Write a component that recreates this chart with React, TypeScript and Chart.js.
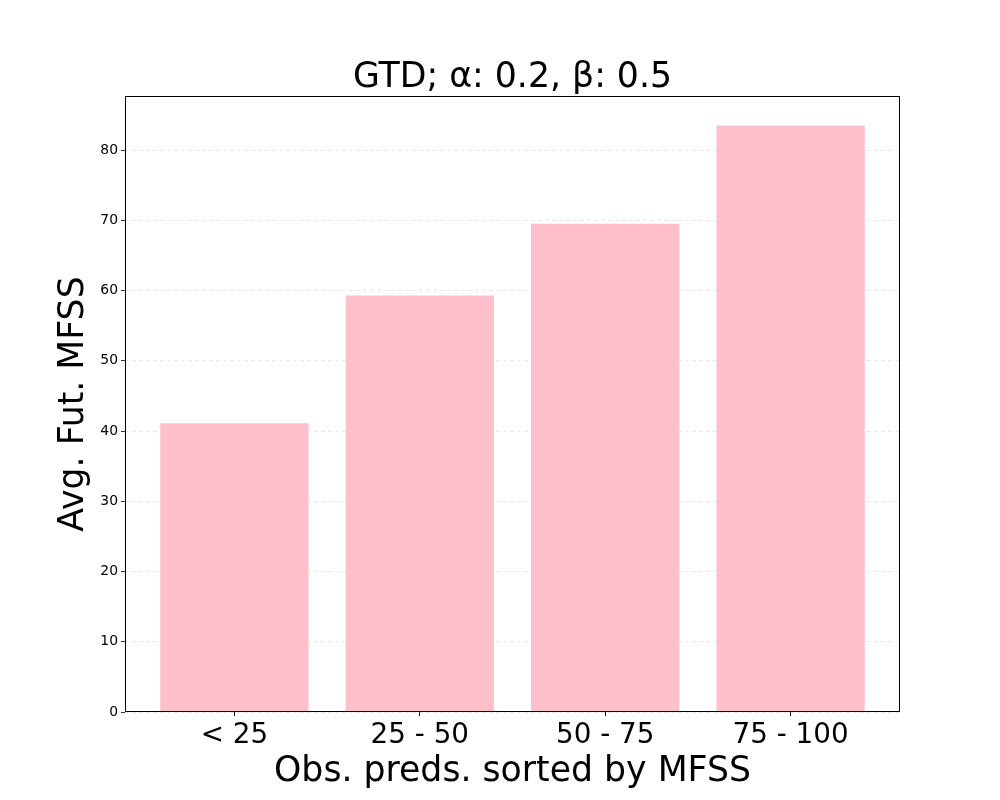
import React, { useEffect, useRef } from "react";
import { Chart, registerables } from "chart.js";

Chart.register(...registerables);

const categories: string[] = ["< 25", "25 - 50", "50 - 75", "75 - 100"];
const avgFutMFSS: number[] = [41.1, 59.3, 69.5, 83.5];
const yTickValues: number[] = [0, 10, 20, 30, 40, 50, 60, 70, 80];
const xTickValues: number[] = [0, 1, 2, 3];

const titleText = "GTD; α: 0.2, β: 0.5";
const xTitle = "Obs. preds. sorted by MFSS";
const yTitle = "Avg. Fut. MFSS";
const FONT = "'DejaVu Sans', sans-serif";

const textPlugin = {
  id: "mplText",
  afterDraw(chart: any) {
    const { ctx, chartArea } = chart;
    ctx.save();
    ctx.strokeStyle = "#000";
    ctx.lineWidth = 1;
    ctx.setLineDash([]);
    const l = Math.round(chartArea.left) + 0.5;
    const t = Math.round(chartArea.top) + 0.5;
    const r = Math.round(chartArea.right) - 0.5;
    const b = Math.round(chartArea.bottom) - 0.5;
    ctx.strokeRect(l, t, r - l, b - t);
    const cx = (chartArea.left + chartArea.right) / 2;
    const cy = (chartArea.top + chartArea.bottom) / 2;
    ctx.fillStyle = "#000";
    ctx.font = `34.7px ${FONT}`;
    ctx.textAlign = "center";
    ctx.textBaseline = "alphabetic";
    ctx.fillText(titleText, cx, 87);
    ctx.fillText(xTitle, cx, 781);
    ctx.translate(83, cy);
    ctx.rotate(-Math.PI / 2);
    ctx.fillText(yTitle, 0, 0);
    ctx.restore();
  },
};

export default function App() {
  const ref = useRef<HTMLCanvasElement>(null);
  useEffect(() => {
    document.body.style.margin = "0";
    if (!ref.current) return;
    const chart = new Chart(ref.current, {
      type: "bar",
      data: {
        datasets: [
          {
            data: avgFutMFSS.map((v, i) => ({ x: i, y: v })),
            backgroundColor: "#FFC0CB",
            borderWidth: 0,
            barPercentage: 0.8,
            categoryPercentage: 1.0,
          },
        ],
      },
      options: {
        animation: false,
        responsive: false,
        maintainAspectRatio: false,
        layout: { padding: { top: 96, right: 100, left: 0, bottom: 0 } },
        plugins: {
          legend: { display: false },
          title: { display: false },
          tooltip: { enabled: false },
        },
        scales: {
          x: {
            type: "linear",
            min: -0.59,
            max: 3.59,
            offset: false,
            afterBuildTicks: (s: any) => {
              s.ticks = xTickValues.map((v) => ({ value: v }));
            },
            afterFit: (s: any) => {
              s.height = 88;
            },
            ticks: {
              callback: (v: any) => categories[v] ?? "",
              font: { family: FONT, size: 27.8 },
              color: "#000",
              padding: 3,
              maxRotation: 0,
              autoSkip: false,
            },
            grid: {
              display: true,
              offset: false,
              drawOnChartArea: false,
              drawTicks: true,
              tickLength: 4,
              tickColor: "#000",
            },
            border: { display: false },
          },
          y: {
            min: 0,
            max: 87.7,
            z: 1,
            afterBuildTicks: (s: any) => {
              s.ticks = yTickValues.map((v) => ({ value: v }));
            },
            afterFit: (s: any) => {
              s.width = 125;
            },
            ticks: {
              font: { family: FONT, size: 13.9 },
              color: "#000",
              padding: 3,
            },
            grid: {
              display: true,
              drawOnChartArea: true,
              drawTicks: true,
              tickLength: 4,
              tickColor: "#000",
              color: "rgba(176,176,176,0.35)",
              lineWidth: 0.8,
              tickBorderDash: [],
            } as any,
            border: { display: false, dash: [4, 3] },
          },
        },
      },
      plugins: [textPlugin],
    } as any);
    return () => chart.destroy();
  }, []);
  return <canvas ref={ref} width={1000} height={800} style={{ display: "block" }} />;
}
